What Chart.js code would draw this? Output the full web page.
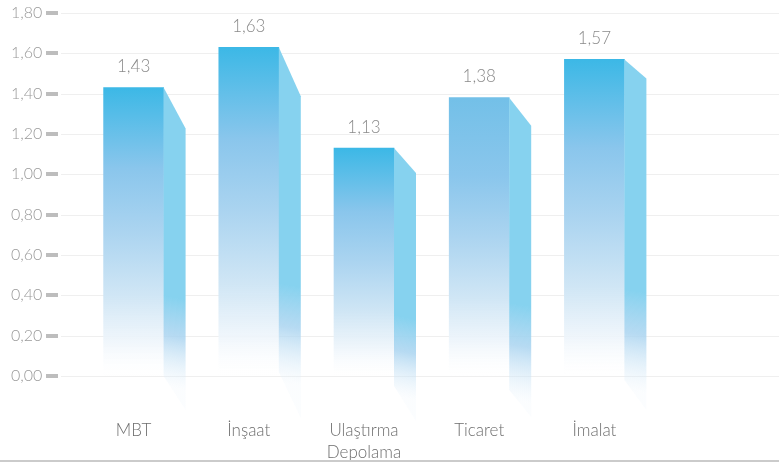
<!DOCTYPE html>
<html>
<head>
<meta charset="utf-8">
<script src="https://cdn.jsdelivr.net/npm/chart.js@4.4.1/dist/chart.umd.min.js"></script>
<style>
  html, body { margin: 0; padding: 0; background: #fff; }
  #wrap { width: 779px; height: 464px; }
</style>
</head>
<body>
<div id="wrap"><canvas id="chart"></canvas></div>
<script>
// ---------------- DATA ----------------
const categories = ["MBT", "İnşaat", ["Ulaştırma", "Depolama"], "Ticaret", "İmalat"];
const values = [1.43, 1.63, 1.13, 1.38, 1.57];
const yTickValues = [0, 0.2, 0.4, 0.6, 0.8, 1.0, 1.2, 1.4, 1.6, 1.8];
const yTickLabels = ["0,00", "0,20", "0,40", "0,60", "0,80", "1,00", "1,20", "1,40", "1,60", "1,80"];

// ---------------- STYLE ----------------
const FONT = "Lato, 'Open Sans', sans-serif";
const topColors = ["#3cb8e6", "#3cb8e6", "#3cb8e6", "#73c0e8", "#3cb8e6"];
const SIDE_DX = 22;
const sideTopDrop = [41, 49, 25, 28, 19];
const sideLeftBottom = [0, -4, 10, 14, 4];
const sideRightBottom = [34, 42, 45, 41, 34];

const fmt = v => v.toFixed(2).replace(".", ",");

// front face gradient, per bar
function frontFill(ctx) {
  const chart = ctx.chart;
  if (!chart.chartArea) return topColors[ctx.dataIndex];
  const y = chart.scales.y;
  const top = y.getPixelForValue(values[ctx.dataIndex]);
  const base = y.getPixelForValue(0);
  const g = chart.ctx.createLinearGradient(0, top, 0, base);
  g.addColorStop(0, topColors[ctx.dataIndex]);
  g.addColorStop(0.28, "#8ac6ec");
  g.addColorStop(0.5, "#abd4f0");
  g.addColorStop(0.72, "#d0e6f5");
  g.addColorStop(0.88, "rgba(238,245,251,0.9)");
  g.addColorStop(1, "rgba(255,255,255,0.2)");
  return g;
}

// grid lines + tick dashes + bottom rule
const backdrop = {
  id: "backdrop",
  beforeDatasetsDraw(chart) {
    const { ctx, scales: { y } } = chart;
    ctx.save();
    yTickValues.forEach(v => {
      const py = Math.round(y.getPixelForValue(v));
      ctx.fillStyle = "#efefef";
      ctx.fillRect(61, py, chart.width - 61, 1);
      ctx.fillStyle = "#bdbdbd";
      ctx.fillRect(46, py - 2, 12, 4);
    });
    ctx.restore();
  },
  afterDraw(chart) {
    const { ctx } = chart;
    ctx.save();
    ctx.fillStyle = "#cbcbcb";
    ctx.fillRect(0, 460, chart.width, 2);
    ctx.restore();
  }
};

// side faces and value labels
const sides = {
  id: "sides",
  afterDatasetsDraw(chart) {
    const { ctx } = chart;
    const meta = chart.getDatasetMeta(0);
    ctx.save();
    meta.data.forEach((bar, i) => {
      const R = bar.x + bar.width / 2;
      const T = bar.y;
      const B = bar.base;
      const lb = B + sideLeftBottom[i];
      const rb = B + sideRightBottom[i];
      const g = ctx.createLinearGradient(R + SIDE_DX, T + (B - T) * 0.6, R, lb + 10);
      g.addColorStop(0, "#86d2ef");
      g.addColorStop(0.3, "#86d2ef");
      g.addColorStop(0.6, "rgba(170,212,240,0.85)");
      g.addColorStop(1, "rgba(235,244,251,0.2)");
      ctx.fillStyle = g;
      ctx.beginPath();
      ctx.moveTo(R, T);
      ctx.lineTo(R + SIDE_DX, T + sideTopDrop[i]);
      ctx.lineTo(R + SIDE_DX, rb);
      ctx.lineTo(R, lb);
      ctx.closePath();
      ctx.fill();

      ctx.fillStyle = "#8a8a8a";
      ctx.font = "300 17px " + FONT;
      ctx.textAlign = "center";
      ctx.textBaseline = "middle";
      ctx.fillText(fmt(values[i]), bar.x, T - 21);
    });
    ctx.restore();
  }
};

new Chart(document.getElementById("chart"), {
  type: "bar",
  data: {
    labels: categories,
    datasets: [{
      data: values,
      backgroundColor: frontFill,
      borderWidth: 0,
      barThickness: 60
    }]
  },
  options: {
    responsive: true,
    maintainAspectRatio: false,
    animation: false,
    layout: { padding: { left: 11, right: 127, top: 13, bottom: 0 } },
    plugins: { legend: { display: false }, tooltip: { enabled: false } },
    scales: {
      x: {
        grid: { display: false, drawTicks: false },
        border: { display: false },
        ticks: {
          padding: 43,
          color: "#6e6e6e",
          font: { family: FONT, size: 17, weight: "300", lineHeight: 1.3 }
        },
        afterFit: s => { s.height = 88; }
      },
      y: {
        min: 0,
        max: 1.8,
        grid: { display: false, drawTicks: false },
        border: { display: false },
        afterBuildTicks: s => { s.ticks = yTickValues.map(v => ({ value: v })); },
        ticks: {
          padding: 0,
          crossAlign: "far",
          color: "#9a9a9a",
          font: { family: FONT, size: 16, weight: "300" },
          callback: (v, i) => yTickLabels[i]
        },
        afterFit: s => { s.width = 65; }
      }
    }
  },
  plugins: [backdrop, sides]
});
</script>
</body>
</html>
